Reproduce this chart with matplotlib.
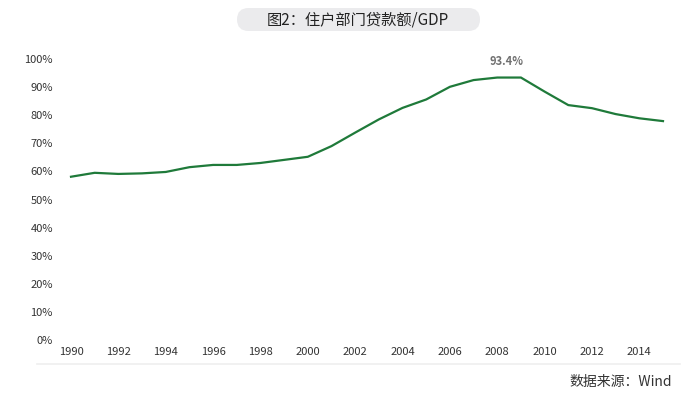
import matplotlib
matplotlib.use("Agg")
import matplotlib.pyplot as plt
from matplotlib.patches import FancyBboxPatch

years = list(range(1990, 2016))
ratio = [58.1, 59.5, 59.1, 59.3, 59.8, 61.5, 62.3, 62.3, 63.0, 64.1,
         65.2, 69.0, 73.8, 78.5, 82.6, 85.6, 90.1, 92.5, 93.4, 93.4,
         88.4, 83.6, 82.5, 80.4, 78.9, 77.9]
yticks = list(range(0, 101, 10))
ytick_labels = [f"{v}%" for v in yticks]
xticks = list(range(1990, 2015, 2))
xtick_labels = [str(y) for y in xticks]
title = "图2：住户部门贷款额/GDP"
source = "数据来源：Wind"
peak_label = "93.4%"

plt.rcParams['font.family'] = ['Noto Sans CJK SC', 'DejaVu Sans']

W, H = 700, 394
fig = plt.figure(figsize=(W / 100, H / 100), dpi=100)
fig.patch.set_facecolor('white')

# overlay axes in pixel coordinates for decorations
deco = fig.add_axes([0, 0, 1, 1])
deco.set_xlim(0, W)
deco.set_ylim(H, 0)
deco.axis('off')
box = FancyBboxPatch((237, 8), 480 - 237, 23,
                     boxstyle="round,pad=0,rounding_size=11.5",
                     facecolor='#ebebed', edgecolor='none')
deco.add_patch(box)
deco.text(358, 19.5, title, ha='center', va='center', fontsize=11, color='#222222')
deco.plot([37, 680], [364, 364], color='#efefef', linewidth=1.2)
deco.text(672, 382, source, ha='right', va='center', fontsize=10, color='#333333')

def fx(px):
    return px / W

def fy(py):
    return 1 - py / H

ax = fig.add_axes([fx(71), fy(340), fx(663) - fx(71), fy(59) - fy(340)])
ax.patch.set_alpha(0)
ax.plot(years, ratio, color='#1f7a3a', linewidth=1.6, clip_on=False,
        solid_joinstyle='miter')
ax.set_xlim(1990, 2015)
ax.set_ylim(0, 100)
ax.set_yticks(yticks)
ax.set_yticklabels(ytick_labels)
ax.set_xticks(xticks)
ax.set_xticklabels(xtick_labels)
ax.tick_params(axis='y', length=0, pad=13, labelsize=8, labelcolor='#333333')
ax.tick_params(axis='x', length=0, pad=5, labelsize=8, labelcolor='#333333')
for s in ax.spines.values():
    s.set_visible(False)

ax.annotate(peak_label, xy=(2008.4, 93.4), xytext=(0, 7), textcoords='offset points',
            ha='center', va='bottom', fontsize=8, color='#707070', fontweight='bold')

fig.savefig('out.png', dpi=100, facecolor='white')
